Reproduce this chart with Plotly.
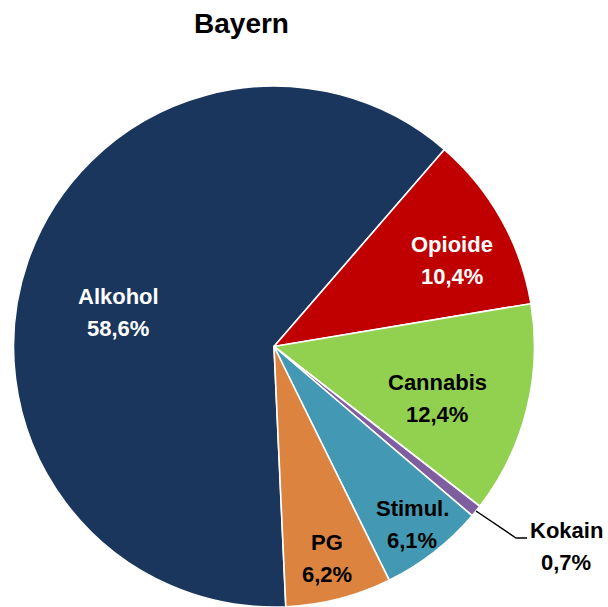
import plotly.graph_objects as go
import math

# Anteile der Hauptdiagnosen (in %)
categories = ["Alkohol", "Opioide", "Cannabis", "Kokain", "Stimul.", "PG"]
values = [58.6, 10.4, 12.4, 0.7, 6.1, 6.2]

colors = ["#1B365D", "#C00000", "#92D050", "#7E5E9E", "#4399B3", "#DC843F"]
label_colors = ["white", "white", "black", "black", "black", "black"]
# label centres in pixels (x, y)
label_pos = [(118, 312), (452, 260), (437, 398), (566, 546), (412, 524), (327, 558)]
LINE_GAP = 32  # distance between name line and value line

W, H = 608, 607
R = 260.5
CX, CY = 274, H - R
ROT = 177.4  # start angle of the first slice (clockwise from 12 o'clock)

fig = go.Figure(go.Pie(
    labels=categories,
    values=values,
    marker=dict(colors=colors, line=dict(color="white", width=1.6)),
    sort=False,
    direction="clockwise",
    rotation=ROT,
    textinfo="none",
    hoverinfo="label+value",
    showlegend=False,
    domain=dict(x=[(CX - R) / W, (CX + R) / W], y=[0, 2 * R / H]),
))


def fmt(v):
    return f"{v:.1f}".replace(".", ",") + "%"


def to_paper(px, py):
    return px / W, 1 - py / H


for cat, v, col, (px, py) in zip(categories, values, label_colors, label_pos):
    for line, dy in ((cat, -LINE_GAP / 2), (fmt(v), LINE_GAP / 2)):
        x, y = to_paper(px, py + dy)
        fig.add_annotation(
            x=x, y=y, xref="paper", yref="paper",
            text=f"<b>{line}</b>",
            showarrow=False, xanchor="center", yanchor="middle",
            font=dict(family="Liberation Sans", size=22, color=col),
        )

# leader line for the small Kokain slice
total = sum(values)
start = ROT + 360 * sum(values[:3]) / total
mid = math.radians(start + 180 * values[3] / total)
sx, sy = CX + R * math.sin(mid), CY - R * math.cos(mid)
pts = [(sx, sy), (516, 538), (527, 538)]
path = "M " + " L ".join(f"{to_paper(px, py)[0]},{to_paper(px, py)[1]}" for px, py in pts)
fig.add_shape(type="path", path=path, xref="paper", yref="paper",
              line=dict(color="black", width=1.5))

fig.update_layout(
    width=W, height=H,
    margin=dict(l=0, r=0, t=0, b=0),
    paper_bgcolor="white",
    plot_bgcolor="white",
    title=dict(
        text="<b>Bayern</b>",
        x=241.5 / W, xanchor="center",
        y=1 - 23 / H, yanchor="middle",
        font=dict(family="Liberation Sans", size=28, color="black"),
    ),
)

fig.write_html("out.html")
